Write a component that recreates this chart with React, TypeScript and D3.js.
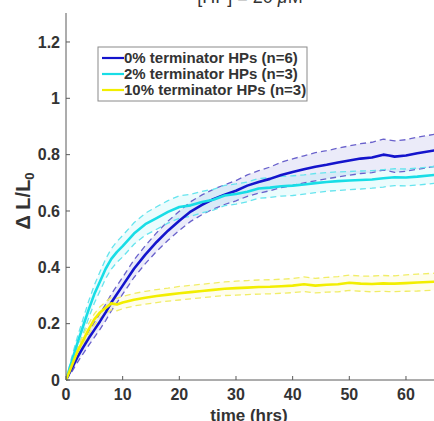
import React from "react";
import * as d3 from "d3";

const times = [0,1,2,3,4,5,6,7,8,9,10,12,14,16,18,20,22,24,26,28,30,32,34,36,38,40,42,44,46,48,50,52,54,56,57,58,60,62,65];
const blueMean = [0,0.04,0.08,0.115,0.148,0.178,0.208,0.24,0.275,0.305,0.335,0.395,0.445,0.49,0.53,0.565,0.598,0.622,0.642,0.658,0.672,0.69,0.703,0.714,0.728,0.738,0.748,0.757,0.764,0.772,0.779,0.786,0.79,0.8,0.797,0.793,0.797,0.805,0.815];
const blueErr = [0,0.012,0.018,0.022,0.025,0.027,0.028,0.029,0.03,0.03,0.03,0.031,0.032,0.033,0.034,0.034,0.035,0.035,0.035,0.035,0.036,0.038,0.04,0.042,0.045,0.047,0.048,0.05,0.05,0.051,0.052,0.053,0.054,0.055,0.055,0.056,0.056,0.057,0.057];
const cyanMean = [0,0.065,0.13,0.19,0.25,0.305,0.35,0.395,0.43,0.455,0.475,0.52,0.553,0.575,0.597,0.614,0.62,0.632,0.64,0.655,0.66,0.668,0.68,0.683,0.688,0.69,0.694,0.699,0.703,0.706,0.708,0.71,0.712,0.716,0.718,0.72,0.719,0.722,0.728];
const cyanErr = [0,0.015,0.022,0.026,0.03,0.032,0.034,0.035,0.036,0.037,0.038,0.038,0.039,0.04,0.04,0.04,0.039,0.038,0.037,0.036,0.036,0.035,0.035,0.035,0.035,0.035,0.034,0.034,0.033,0.033,0.032,0.032,0.031,0.031,0.03,0.03,0.03,0.03,0.03];
const yellowMean = [0,0.05,0.1,0.14,0.18,0.215,0.24,0.256,0.272,0.268,0.275,0.285,0.292,0.298,0.303,0.308,0.312,0.316,0.32,0.324,0.326,0.328,0.33,0.331,0.333,0.335,0.34,0.335,0.338,0.34,0.345,0.342,0.341,0.343,0.342,0.342,0.344,0.346,0.349];
const yellowErr = [0,0.01,0.015,0.018,0.02,0.02,0.02,0.021,0.022,0.022,0.022,0.022,0.023,0.023,0.023,0.024,0.024,0.024,0.024,0.024,0.025,0.025,0.025,0.025,0.025,0.025,0.026,0.026,0.026,0.027,0.027,0.027,0.028,0.028,0.028,0.028,0.029,0.03,0.03];

const seriesNames = ["0% terminator HPs (n=6)", "2% terminator HPs (n=3)", "10% terminator HPs (n=3)"];
const xTicks = [0,10,20,30,40,50,60];
const yTicks = [0,0.2,0.4,0.6,0.8,1,1.2];
const yTickLabels = ["0","0.2","0.4","0.6","0.8","1","1.2"];

const W = 434, H = 421;
const x = d3.scaleLinear().domain([0, 65]).range([66, 434.3]);
const y = d3.scaleLinear().domain([0, 1.3]).range([380, 13.8]);

const styles = [
  { line: "#1414cc", dash: "#6a62cc", fill: "rgba(120,120,215,0.15)" },
  { line: "#18dde6", dash: "#66e4ee", fill: "rgba(60,225,235,0.10)" },
  { line: "#f2ee00", dash: "#f1ed66", fill: "rgba(245,240,80,0.10)" },
];
const means = [blueMean, cyanMean, yellowMean];
const errs = [blueErr, cyanErr, yellowErr];

export default function App() {
  const line = d3.line<[number, number]>().x(d => x(d[0])).y(d => y(d[1]));
  const font = "Arial, 'Liberation Sans', Helvetica, sans-serif";
  const axisColor = "#5a5a5a";
  const textColor = "#333";
  return (
    <div style={{ position: "absolute", left: 0, top: 0 }}>
      <svg width={W} height={H} style={{ display: "block", background: "#fff" }}>
        <defs>
          <clipPath id="plotclip">
            <rect x={66} y={13} width={W - 66} height={368} />
          </clipPath>
        </defs>
        <text x={250} y={3} textAnchor="middle" fontFamily={font} fontSize={18} fill={textColor}>
          [HP] = 20 <tspan fontStyle="italic">μ</tspan>M
        </text>
        <g clipPath="url(#plotclip)">
          {means.map((m, k) => {
            const e = errs[k];
            const a = d3.area<number>()
              .x((_, i) => x(times[i]))
              .y0((d, i) => y(d - e[i]))
              .y1((d, i) => y(d + e[i]));
            return <path key={"f" + k} d={a(m) || ""} fill={styles[k].fill} stroke="none" />;
          })}
          {means.map((m, k) => {
            const e = errs[k];
            const up = line(m.map((v, i) => [times[i], v + e[i]] as [number, number])) || "";
            const lo = line(m.map((v, i) => [times[i], v - e[i]] as [number, number])) || "";
            return (
              <g key={"d" + k}>
                <path d={up} fill="none" stroke={styles[k].dash} strokeWidth={1.3} strokeDasharray="6,4" />
                <path d={lo} fill="none" stroke={styles[k].dash} strokeWidth={1.3} strokeDasharray="6,4" />
              </g>
            );
          })}
          {means.map((m, k) => (
            <path key={"m" + k} d={line(m.map((v, i) => [times[i], v] as [number, number])) || ""}
              fill="none" stroke={styles[k].line} strokeWidth={2.6} strokeLinejoin="round" />
          ))}
        </g>
        {/* axes */}
        <line x1={66} y1={13} x2={66} y2={380} stroke={axisColor} strokeWidth={1} />
        <line x1={66} y1={380} x2={W} y2={380} stroke={axisColor} strokeWidth={1} />
        {yTicks.map((t, i) => (
          <g key={"yt" + i}>
            <line x1={66} x2={70} y1={y(t)} y2={y(t)} stroke={axisColor} />
            <text x={60} y={y(t)} dy="0.35em" textAnchor="end" fontFamily={font} fontWeight="bold" fontSize={16} fill={textColor}>
              {yTickLabels[i]}
            </text>
          </g>
        ))}
        {xTicks.map((t, i) => (
          <g key={"xt" + i}>
            <line x1={x(t)} x2={x(t)} y1={380} y2={376} stroke={axisColor} />
            <text x={x(t)} y={400} textAnchor="middle" fontFamily={font} fontWeight="bold" fontSize={16} fill={textColor}>
              {t}
            </text>
          </g>
        ))}
        <text x={249} y={421} textAnchor="middle" fontFamily={font} fontWeight="bold" fontSize={17} fill={textColor}>
          time (hrs)
        </text>
        <text transform="translate(30,201) rotate(-90)" textAnchor="middle" fontFamily={font} fontWeight="bold" fontSize={20} fill={textColor}>
          Δ L/L<tspan fontSize={13} dy={4}>0</tspan>
        </text>
        {/* legend */}
        <rect x={98} y={47} width={209} height={54} fill="#fff" stroke="#8a8a8a" strokeWidth={1} />
        {seriesNames.map((n, i) => (
          <g key={"lg" + i}>
            <line x1={102} x2={124} y1={58 + i * 16} y2={58 + i * 16} stroke={styles[i].line} strokeWidth={2.2} />
            <text x={124} y={58 + i * 16} dy="0.36em" fontFamily={font} fontWeight="bold" fontSize={15} fill={textColor}>
              {n}
            </text>
          </g>
        ))}
      </svg>
    </div>
  );
}
